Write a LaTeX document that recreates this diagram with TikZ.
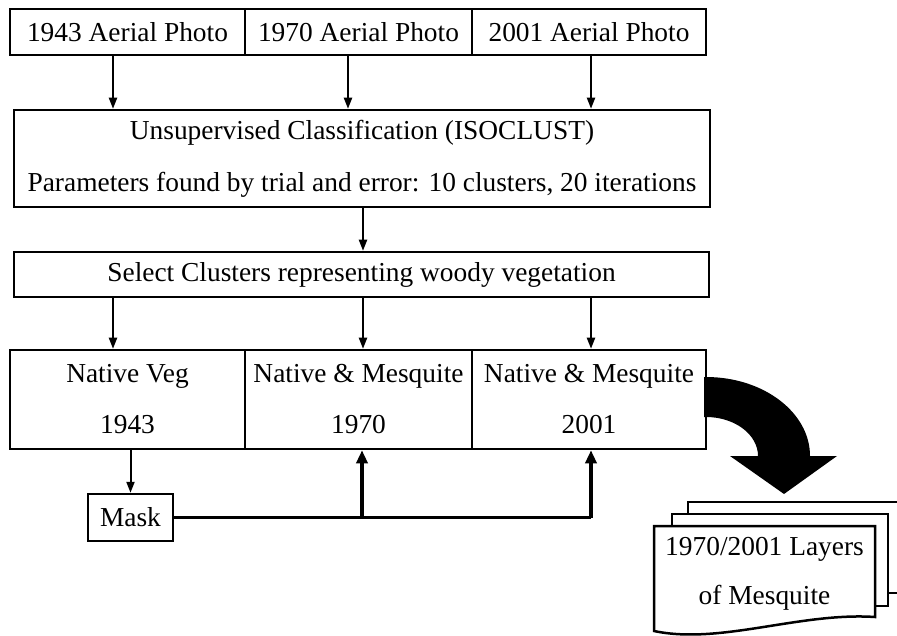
\documentclass[tikz,border=0pt]{standalone}
\usepackage{fontspec}
\setmainfont{Liberation Serif}
\usetikzlibrary{arrows.meta}
\tikzset{
  box/.style={draw=black, line width=2.5pt, rectangle, inner sep=0pt, align=center,
    font=\fontsize{27.4}{51}\selectfont},
  arr/.style={draw=black, line width=2pt, -{Triangle[length=11pt,width=8pt]}},
  thickarr/.style={draw=black, line width=3.5pt, -{Triangle[length=13pt,width=11pt]}},
  thickline/.style={draw=black, line width=3.5pt},
  page/.style={draw=black, line width=2.5pt, fill=white, line join=miter},
}
\begin{document}
\begin{tikzpicture}[x=1pt,y=-1pt]
\clip (0,0) rectangle (897,636);
\fill[white] (0,0) rectangle (897,636);
% top row
\node[box, minimum width=235pt, minimum height=46pt] (p1) at (127.5,32) {1943 Aerial Photo};
\node[box, minimum width=227pt, minimum height=46pt] (p2) at (358.5,32) {1970 Aerial Photo};
\node[box, minimum width=234pt, minimum height=46pt] (p3) at (589,32) {2001 Aerial Photo};
% classification
\node[box, minimum width=696pt, minimum height=97pt, font=\fontsize{27.4}{52}\selectfont] (uc) at (362,158.5)
  {Unsupervised Classification (ISOCLUST)\\Parameters found by trial and error: 10 clusters, 20 iterations};
\node[box, minimum width=695pt, minimum height=45pt] (sel) at (361.5,274.5)
  {Select Clusters representing woody vegetation};
% bottom row
\node[box, minimum width=235pt, minimum height=99pt] (nv) at (127.5,399.5) {Native Veg\\1943};
\node[box, minimum width=227pt, minimum height=99pt] (nm1) at (358.5,399.5) {Native \& Mesquite\\1970};
\node[box, minimum width=234pt, minimum height=99pt] (nm2) at (589,399.5) {Native \& Mesquite\\2001};
\node[box, minimum width=85pt, minimum height=47pt] (mask) at (130.5,517.5) {Mask};
% arrows top -> uc
\draw[arr] ([xshift=-14.5pt]p1.south) -- ([xshift=-14.5pt]p1.south |- uc.north);
\draw[arr] ([xshift=-10.5pt]p2.south) -- ([xshift=-10.5pt]p2.south |- uc.north);
\draw[arr] ([xshift=2pt]p3.south) -- ([xshift=2pt]p3.south |- uc.north);
% uc -> sel
\draw[arr] ([xshift=1pt]uc.south) -- ([xshift=1pt]uc.south |- sel.north);
% sel -> bottom row
\draw[arr] ([xshift=-14.5pt]nv.north |- sel.south) -- ([xshift=-14.5pt]nv.north);
\draw[arr] ([xshift=4.5pt]nm1.north |- sel.south) -- ([xshift=4.5pt]nm1.north);
\draw[arr] ([xshift=2pt]nm2.north |- sel.south) -- ([xshift=2pt]nm2.north);
% native veg -> mask
\draw[arr] (mask.north |- nv.south) -- (mask.north);
% mask -> others
\coordinate (j1) at ([xshift=3.5pt]nm1.south |- mask.east);
\coordinate (j2) at ([xshift=2pt]nm2.south |- mask.east);
\draw[thickline] (mask.east) -- (j2);
\draw[thickarr] (j1) -- ([xshift=3.5pt]nm1.south);
\draw[thickarr] (j2) -- ([xshift=2pt]nm2.south);
% big curved arrow
\fill[black] (704,377) -- (706,377) .. controls (763.4,377) and (810,412.4) .. (810,456)
  -- (837,456) -- (784,494) -- (730,456) -- (758,456)
  .. controls (758,434.5) and (734.7,417) .. (706,417) -- (704,417) -- cycle;
% document stack
\draw[page] (688,593) -- (688,502) -- (910,502) -- (910,593) -- cycle;
\draw[page] (672,606) -- (672,514) -- (888,514) -- (888,606) -- cycle;
\draw[page] (654,631) -- (654,526) -- (875,526) -- (875,617)
  .. controls (800,612) and (720,645) .. (654,631) -- cycle;
\node[align=center, inner sep=0pt, font=\fontsize{27.4}{49}\selectfont] (doc) at (764.5,574)
  {1970/2001 Layers\\of Mesquite};
\end{tikzpicture}
\end{document}
